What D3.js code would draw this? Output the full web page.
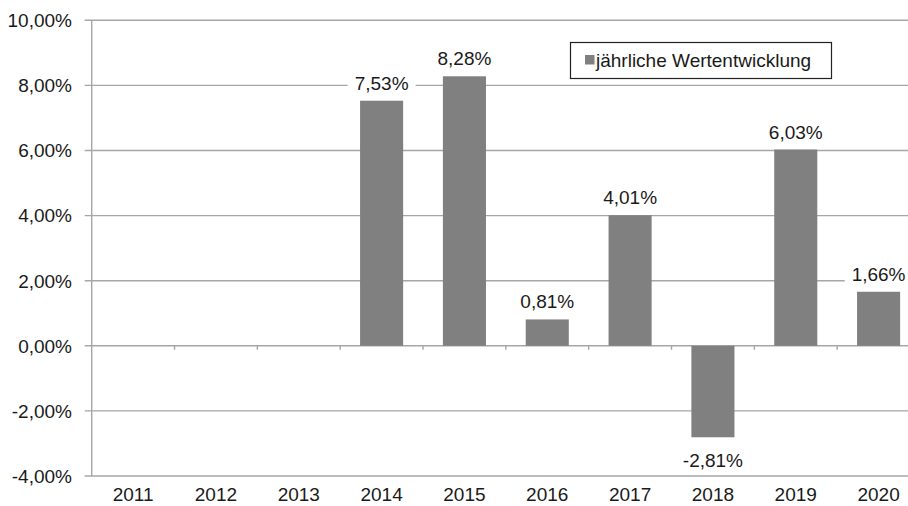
<!DOCTYPE html>
<html lang="de">
  <head>
    <meta charset="UTF-8" />
    <title>Jährliche Wertentwicklung</title>
    <script src="https://d3js.org/d3.v7.min.js"></script>
    <style>
      body {
        margin: 0;
        background: #fff;
      }
      svg {
        display: block;
        font-family: 'Liberation Sans', Arial, sans-serif;
      }
      .grid line {
        stroke: #a6a6a6;
        stroke-width: 1.4px;
      }
      .lbl {
        font-size: 19px;
        fill: #1a1a1a;
      }
    </style>
  </head>
  <body>
    <div id="chart"></div>
    <script>
      // data
      const years = ['2011', '2012', '2013', '2014', '2015', '2016', '2017', '2018', '2019', '2020'];
      const returns = [null, null, null, 7.53, 8.28, 0.81, 4.01, -2.81, 6.03, 1.66];
      const yTicks = [-4, -2, 0, 2, 4, 6, 8, 10];
      const seriesName = 'jährliche Wertentwicklung';

      const W = 908,
        H = 506;
      const plotLeft = 91.7,
        plotRight = 920,
        plotTop = 20.3,
        plotBottom = 476;

      const de = d3.formatLocale({
        decimal: ',',
        thousands: '.',
        grouping: [3],
        currency: ['', '€'],
        minus: '-',
      });
      const fmt = (v) => de.format('.2f')(v) + '%';

      const svg = d3
        .select('#chart')
        .append('svg')
        .attr('width', W)
        .attr('height', H);

      const x = d3
        .scaleBand()
        .domain(years)
        .range([plotLeft, plotRight])
        .paddingInner(0.48)
        .paddingOuter(0.24);

      const y = d3.scaleLinear().domain([-4, 10]).range([plotBottom, plotTop]);

      // gridlines
      const grid = svg.append('g').attr('class', 'grid');
      grid
        .selectAll('line.h')
        .data(yTicks)
        .enter()
        .append('line')
        .attr('class', 'h')
        .attr('x1', plotLeft - 7)
        .attr('x2', plotRight)
        .attr('y1', (d) => y(d))
        .attr('y2', (d) => y(d));

      // y axis line
      grid
        .append('line')
        .attr('x1', plotLeft)
        .attr('x2', plotLeft)
        .attr('y1', plotTop)
        .attr('y2', plotBottom);

      // category ticks on the zero line
      const step = x.step();
      grid
        .selectAll('line.ct')
        .data(years.slice(1))
        .enter()
        .append('line')
        .attr('class', 'ct')
        .attr('x1', (d, i) => plotLeft + step * (i + 1))
        .attr('x2', (d, i) => plotLeft + step * (i + 1))
        .attr('y1', y(0))
        .attr('y2', y(0) + 4);

      // y tick labels
      svg
        .selectAll('text.yt')
        .data(yTicks)
        .enter()
        .append('text')
        .attr('class', 'lbl yt')
        .attr('x', 72)
        .attr('y', (d) => y(d))
        .attr('dy', '0.36em')
        .attr('text-anchor', 'end')
        .text((d) => fmt(d));

      // x labels
      svg
        .selectAll('text.xt')
        .data(years)
        .enter()
        .append('text')
        .attr('class', 'lbl xt')
        .attr('x', (d) => x(d) + x.bandwidth() / 2)
        .attr('y', 501)
        .attr('text-anchor', 'middle')
        .text((d) => d);

      const data = years
        .map((yr, i) => ({ year: yr, v: returns[i] }))
        .filter((d) => d.v !== null);

      // bars
      svg
        .selectAll('rect.bar')
        .data(data)
        .enter()
        .append('rect')
        .attr('class', 'bar')
        .attr('fill', '#808080')
        .attr('x', (d) => x(d.year))
        .attr('width', x.bandwidth())
        .attr('y', (d) => y(Math.max(0, d.v)))
        .attr('height', (d) => Math.abs(y(d.v) - y(0)));

      // data labels with white background
      const labels = svg.append('g');
      data.forEach((d) => {
        const g = labels.append('g');
        const cx = x(d.year) + x.bandwidth() / 2;
        const ty = d.v >= 0 ? y(d.v) - 11 : y(d.v) + 30;
        const t = g
          .append('text')
          .attr('class', 'lbl')
          .attr('x', cx)
          .attr('y', ty)
          .attr('text-anchor', 'middle')
          .text(fmt(d.v));
        const bb = t.node().getBBox();
        g.insert('rect', 'text')
          .attr('x', bb.x - 7)
          .attr('y', bb.y)
          .attr('width', bb.width + 14)
          .attr('height', bb.height)
          .attr('fill', '#fff');
      });

      // legend
      const lg = svg.append('g');
      lg.append('rect')
        .attr('x', 570.5)
        .attr('y', 42.5)
        .attr('width', 261)
        .attr('height', 36)
        .attr('fill', '#fff')
        .attr('stroke', '#222')
        .attr('stroke-width', 1.2);
      lg.append('rect')
        .attr('x', 585)
        .attr('y', 55)
        .attr('width', 9.5)
        .attr('height', 9.5)
        .attr('fill', '#808080');
      lg.append('text')
        .attr('class', 'lbl')
        .attr('x', 596)
        .attr('y', 60)
        .attr('dy', '0.36em')
        .text(seriesName);
    </script>
  </body>
</html>
